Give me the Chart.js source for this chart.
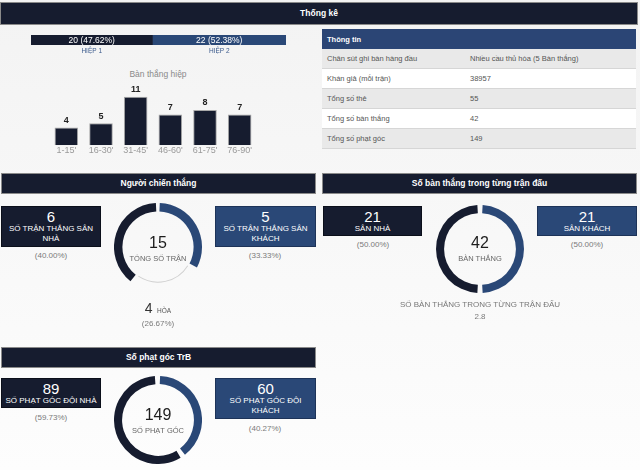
<!DOCTYPE html>
<html lang="vi">
<head>
<meta charset="utf-8">
<script src="https://cdn.jsdelivr.net/npm/chart.js@4.4.0/dist/chart.umd.min.js"></script>
<style>
  body { margin: 0; width: 640px; height: 470px; overflow: hidden; font-family: "Liberation Sans", Arial, sans-serif; }
  #page { position: relative; width: 640px; height: 470px; background: linear-gradient(#f3f3f3, #fdfdfd); }
  canvas { position: absolute; }
  .head { position: absolute; box-sizing: border-box; height: 21px; line-height: 19px; background: #161c2f; border: 1px solid #8a8a8a; color: #fff; font-size: 8.5px; font-weight: bold; text-align: center; }
  .box { position: absolute; box-sizing: border-box; color: #fff; text-align: center; border: 1px solid #0b0f1a; }
  .box.home { background: #161c2f; }
  .box.away { background: #2a4877; border-color: #1d3358; }
  .box .num { font-size: 15px; line-height: 15px; margin-top: 2px; }
  .box .lbl { font-size: 8px; line-height: 10px; }
  .c { position: absolute; transform: translate(-50%, -50%); white-space: nowrap; }
  .pct { font-size: 8px; color: #7a7a7a; }
  .big { font-size: 16px; color: #1d1d1d; }
  .sub { font-size: 7.5px; color: #666; }
  table { position: absolute; left: 322px; top: 29px; width: 314px; border-collapse: collapse; font-size: 7.5px; color: #555; }
  th { background: #2b4575; color: #fff; text-align: left; font-weight: bold; height: 20px; padding: 0 0 0 5px; font-size: 7.5px; }
  td { height: 19px; padding: 0 0 0 5px; border-bottom: 1px solid #d6d6d6; color: #555; }
  tr:nth-child(odd) td { background: #e9e9e9; }
  tr:nth-child(even) td { background: #fff; }
</style>
</head>
<body>
<div id="page">
  <div class="head" style="left:0;top:2px;width:638px;height:23px;line-height:21px;">Thống kê</div>

  <canvas id="halfBar" width="255" height="22" style="left:31px;top:35px;"></canvas>
  <div class="c" style="left:158px;top:74px;font-size:8.5px;color:#8a8a8a;">Bàn thắng hiệp</div>
  <canvas id="periodBar" width="208" height="76" style="left:49px;top:80px;"></canvas>

  <table id="info"><thead><tr><th colspan="2">Thông tin</th></tr></thead><tbody></tbody></table>

  <!-- Người chiến thắng -->
  <div class="head" style="left:1px;top:173px;width:315px;">Người chiến thắng</div>
  <div class="box home" style="left:1px;top:206px;width:100px;height:41px;"><div class="num" id="winHomeN"></div><div class="lbl">SỐ TRẬN THẮNG SÂN<br>NHÀ</div></div>
  <div class="c pct" id="winHomeP" style="left:51px;top:255px;"></div>
  <div class="box away" style="left:215px;top:206px;width:101px;height:41px;"><div class="num" id="winAwayN"></div><div class="lbl">SỐ TRẬN THẮNG SÂN<br>KHÁCH</div></div>
  <div class="c pct" id="winAwayP" style="left:265px;top:255px;"></div>
  <canvas id="resultDonut" width="88" height="88" style="left:114px;top:203px;"></canvas>
  <div class="c big" id="matchTotal" style="left:158px;top:243px;"></div>
  <div class="c sub" style="left:158px;top:258px;">TỔNG SỐ TRẬN</div>
  <div class="c" style="left:158px;top:308px;"><span class="big" id="drawN" style="font-size:14px;color:#333;"></span> <span style="font-size:6.5px;color:#555;">HÒA</span></div>
  <div class="c pct" id="drawP" style="left:158px;top:323px;"></div>

  <!-- Số bàn thắng trong từng trận đấu -->
  <div class="head" style="left:322px;top:173px;width:315px;">Số bàn thắng trong từng trận đấu</div>
  <div class="box home" style="left:323px;top:206px;width:99px;height:30px;"><div class="num" id="goalHomeN"></div><div class="lbl">SÂN NHÀ</div></div>
  <div class="c pct" id="goalHomeP" style="left:373px;top:244px;"></div>
  <div class="box away" style="left:537px;top:206px;width:100px;height:30px;"><div class="num" id="goalAwayN"></div><div class="lbl">SÂN KHÁCH</div></div>
  <div class="c pct" id="goalAwayP" style="left:587px;top:244px;"></div>
  <canvas id="goalDonut" width="88" height="88" style="left:436px;top:205px;"></canvas>
  <div class="c big" id="goalTotal" style="left:480px;top:243px;"></div>
  <div class="c sub" style="left:480px;top:258px;">BÀN THẮNG</div>
  <div class="c pct" style="left:480px;top:304px;color:#777;">SỐ BÀN THẮNG TRONG TỪNG TRẬN ĐẤU</div>
  <div class="c pct" id="goalAvg" style="left:480px;top:316px;"></div>

  <!-- Số phạt góc -->
  <div class="head" style="left:1px;top:347px;width:315px;">Số phạt góc TrB</div>
  <div class="box home" style="left:1px;top:378px;width:100px;height:30px;"><div class="num" id="cornerHomeN"></div><div class="lbl">SỐ PHẠT GÓC ĐỘI NHÀ</div></div>
  <div class="c pct" id="cornerHomeP" style="left:51px;top:417px;"></div>
  <div class="box away" style="left:215px;top:378px;width:101px;height:41px;"><div class="num" id="cornerAwayN"></div><div class="lbl">SỐ PHẠT GÓC ĐỘI<br>KHÁCH</div></div>
  <div class="c pct" id="cornerAwayP" style="left:265px;top:428px;"></div>
  <canvas id="cornerDonut" width="88" height="88" style="left:114px;top:376px;"></canvas>
  <div class="c big" id="cornerTotal" style="left:158px;top:415px;"></div>
  <div class="c sub" style="left:158px;top:430px;">SỐ PHẠT GÓC</div>
</div>

<script>
const DARK = "#161c2f";
const BLUE = "#2a4877";
const FONT = "'Liberation Sans', Arial, sans-serif";

// goals by half
const halfLabels = ["HIỆP 1", "HIỆP 2"];
const halfGoals = [20, 22];

// goals by 15-minute period
const periodLabels = ["1-15'", "16-30'", "31-45'", "46-60'", "61-75'", "76-90'"];
const periodGoals = [4, 5, 11, 7, 8, 7];

// results: away wins, draws, home wins
const resultLabels = ["Thắng sân khách", "Hòa", "Thắng sân nhà"];
const resultCounts = [5, 4, 6];

// goals: away, home
const goalLabels = ["Sân khách", "Sân nhà"];
const goalCounts = [21, 21];

// corners: away, home
const cornerLabels = ["Đội khách", "Đội nhà"];
const cornerCounts = [60, 89];

const infoRows = [
  ["Chân sút ghi bàn hàng đầu", "Nhiều cầu thủ hòa (5 Bàn thắng)"],
  ["Khán giả (mỗi trận)", "38957"],
  ["Tổng số thẻ", "55"],
  ["Tổng số bàn thắng", "42"],
  ["Tổng số phạt góc", "149"]
];

const sum = (a) => a.reduce((s, v) => s + v, 0);
const pct = (v, t) => "(" + (v / t * 100).toFixed(2) + "%)";
const setText = (id, t) => { document.getElementById(id).textContent = t; };

// info table
const tbody = document.querySelector("#info tbody");
infoRows.forEach((r) => {
  const tr = document.createElement("tr");
  tr.innerHTML = "<td style='width:138px'>" + r[0] + "</td><td>" + r[1] + "</td>";
  tbody.appendChild(tr);
});

// text blocks
const matchTotal = sum(resultCounts);
setText("matchTotal", matchTotal);
setText("winHomeN", resultCounts[2]); setText("winHomeP", pct(resultCounts[2], matchTotal));
setText("winAwayN", resultCounts[0]); setText("winAwayP", pct(resultCounts[0], matchTotal));
setText("drawN", resultCounts[1]); setText("drawP", pct(resultCounts[1], matchTotal));

const goalTotal = sum(goalCounts);
setText("goalTotal", goalTotal);
setText("goalHomeN", goalCounts[1]); setText("goalHomeP", pct(goalCounts[1], goalTotal));
setText("goalAwayN", goalCounts[0]); setText("goalAwayP", pct(goalCounts[0], goalTotal));
setText("goalAvg", (goalTotal / matchTotal).toFixed(1));

const cornerTotal = sum(cornerCounts);
setText("cornerTotal", cornerTotal);
setText("cornerHomeN", cornerCounts[1]); setText("cornerHomeP", pct(cornerCounts[1], cornerTotal));
setText("cornerAwayN", cornerCounts[0]); setText("cornerAwayP", pct(cornerCounts[0], cornerTotal));

// labels inside the half bar + captions under it
const halfLabelPlugin = {
  id: "halfLabels",
  afterDatasetsDraw(chart) {
    const ctx = chart.ctx;
    const total = sum(halfGoals);
    ctx.save();
    ctx.textAlign = "center";
    ctx.textBaseline = "middle";
    chart.data.datasets.forEach((ds, i) => {
      const bar = chart.getDatasetMeta(i).data[0];
      const cx = (bar.x + bar.base) / 2;
      ctx.fillStyle = "#fff";
      ctx.font = "8.5px " + FONT;
      ctx.fillText(halfGoals[i] + " " + pct(halfGoals[i], total), cx, bar.y + 0.5);
      ctx.fillStyle = "#3b5a8c";
      ctx.font = "6.5px " + FONT;
      ctx.fillText(halfLabels[i], cx, bar.y + bar.height / 2 + 6);
    });
    ctx.restore();
  }
};

new Chart(document.getElementById("halfBar"), {
  type: "bar",
  data: {
    labels: [""],
    datasets: halfGoals.map((v, i) => ({
      label: halfLabels[i],
      data: [v],
      backgroundColor: [DARK, BLUE][i],
      borderWidth: 0,
      barPercentage: 1,
      categoryPercentage: 1
    }))
  },
  options: {
    indexAxis: "y",
    responsive: false,
    animation: false,
    layout: { padding: { bottom: 12 } },
    scales: {
      x: { stacked: true, display: false, min: 0, max: sum(halfGoals) },
      y: { stacked: true, display: false }
    },
    plugins: { legend: { display: false }, tooltip: { enabled: false } }
  },
  plugins: [halfLabelPlugin]
});

// value labels above the period bars
const valueLabelPlugin = {
  id: "valueLabels",
  afterDatasetsDraw(chart) {
    const ctx = chart.ctx;
    ctx.save();
    ctx.textAlign = "center";
    ctx.textBaseline = "middle";
    ctx.fillStyle = "#222";
    ctx.font = "bold 9px " + FONT;
    chart.getDatasetMeta(0).data.forEach((bar, i) => {
      ctx.fillText(periodGoals[i], bar.x, bar.y - 7);
    });
    ctx.restore();
  }
};

new Chart(document.getElementById("periodBar"), {
  type: "bar",
  data: {
    labels: periodLabels,
    datasets: [{
      data: periodGoals,
      backgroundColor: DARK,
      borderColor: "#a8a8a8",
      borderWidth: 1,
      barPercentage: 0.68,
      categoryPercentage: 1
    }]
  },
  options: {
    responsive: false,
    animation: false,
    layout: { padding: { top: 8 } },
    scales: {
      y: { display: false, min: 0, max: 13 },
      x: {
        grid: { display: false, drawTicks: false },
        border: { display: false },
        ticks: { color: "#9a9a9a", font: { size: 9, family: FONT }, padding: 0 }
      }
    },
    plugins: { legend: { display: false }, tooltip: { enabled: false } }
  },
  plugins: [valueLabelPlugin]
});

const donutOptions = {
  responsive: false,
  animation: false,
  spacing: 3,
  plugins: { legend: { display: false }, tooltip: { enabled: false } }
};

new Chart(document.getElementById("resultDonut"), {
  type: "doughnut",
  data: {
    labels: resultLabels,
    datasets: [
      { data: resultCounts, backgroundColor: [BLUE, "rgba(0,0,0,0)", DARK], borderWidth: 0, weight: 9 },
      { data: resultCounts, backgroundColor: ["rgba(0,0,0,0)", "#d0d0d0", "rgba(0,0,0,0)"], borderWidth: 0, weight: 1 }
    ]
  },
  options: Object.assign({}, donutOptions, { cutout: "78%" })
});

new Chart(document.getElementById("goalDonut"), {
  type: "doughnut",
  data: {
    labels: goalLabels,
    datasets: [{ data: goalCounts, backgroundColor: [BLUE, DARK], borderWidth: 0 }]
  },
  options: Object.assign({}, donutOptions, { cutout: "81%" })
});

new Chart(document.getElementById("cornerDonut"), {
  type: "doughnut",
  data: {
    labels: cornerLabels,
    datasets: [{ data: cornerCounts, backgroundColor: [BLUE, DARK], borderWidth: 0 }]
  },
  options: Object.assign({}, donutOptions, { cutout: "81%" })
});
</script>
</body>
</html>
